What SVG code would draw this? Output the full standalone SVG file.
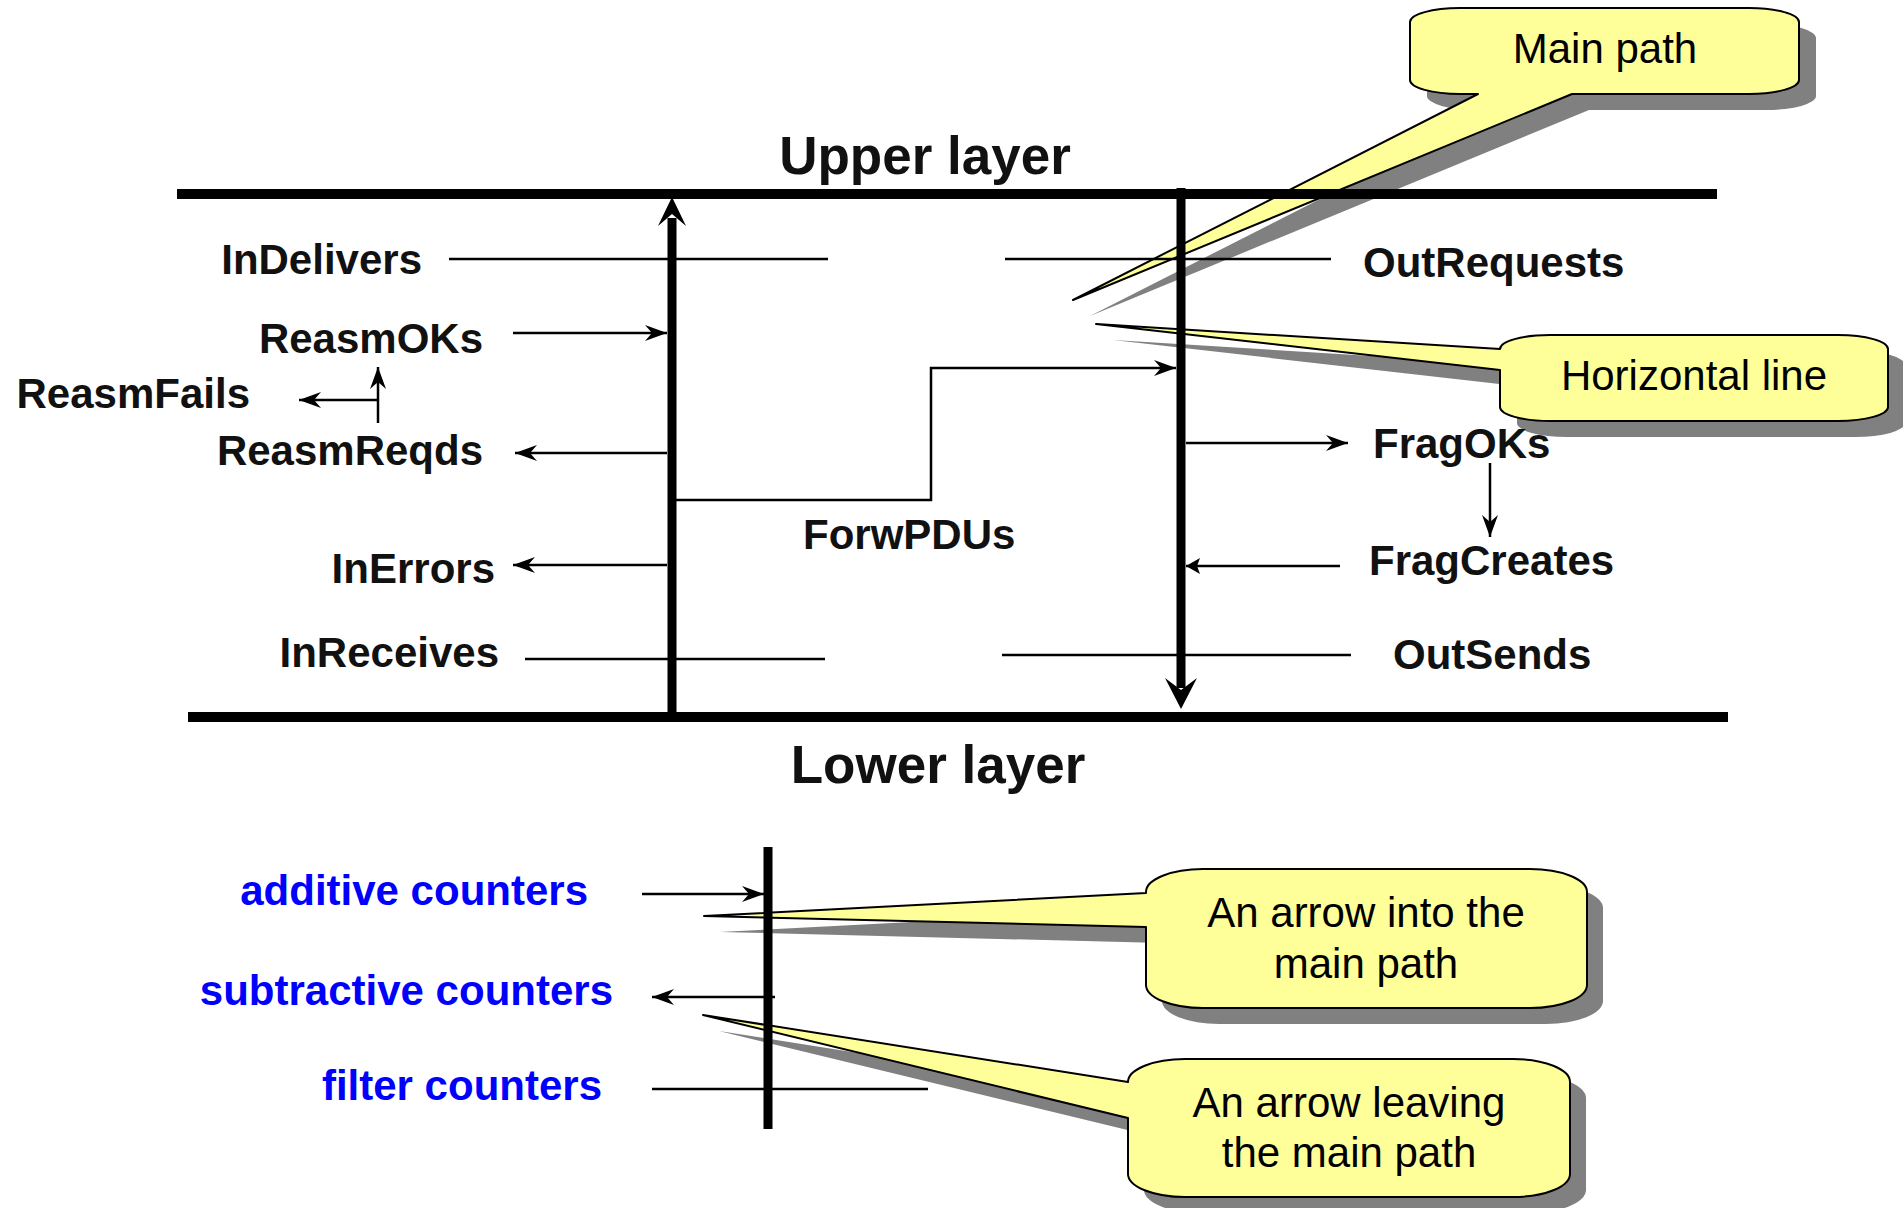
<svg xmlns="http://www.w3.org/2000/svg" width="1903" height="1208" viewBox="0 0 1903 1208">
  <style>
    .lbl { font-family: "Liberation Sans", Arial, sans-serif; font-weight: bold; font-size: 42px; fill: #111; }
    .layer { font-family: "Liberation Sans", Arial, sans-serif; font-weight: bold; font-size: 53px; fill: #111; text-anchor: middle; }
    .blue { fill: #0000ff; }
    .note { font-family: "Liberation Sans", Arial, sans-serif; font-size: 42px; fill: #000; text-anchor: middle; }
    .bubble { fill: #ffff99; stroke: #000; stroke-width: 2; stroke-linejoin: round; }
    .shadow { fill: #808080; }
    .thin { fill: none; stroke: #000; stroke-width: 2.5; }
    .arr { marker-end: url(#stealth); }
    .thick { fill: none; stroke: #000; stroke-width: 10; }
    .bar { fill: none; stroke: #000; stroke-width: 9; }
  </style>
  <defs>
    <marker id="stealth" markerUnits="userSpaceOnUse" viewBox="-24 -10 26 20" refX="0" refY="0" markerWidth="26" markerHeight="20" orient="auto">
      <path d="M0,0 L-22,-8 L-15,0 L-22,8 Z" fill="#000"/>
    </marker>
    <marker id="solid" markerUnits="userSpaceOnUse" viewBox="-16 -9 18 18" refX="0" refY="0" markerWidth="18" markerHeight="18" orient="auto">
      <path d="M0,0 L-14,-8 L-11,0 L-14,8 Z" fill="#000"/>
    </marker>
  </defs>

  <rect width="1903" height="1208" fill="#fff"/>

  <!-- callout bubbles (under the diagram lines) -->
  <g id="callout-main-path">
    <path class="shadow" transform="translate(17,16)" d="M1460,8 H1749 A50,14 0 0 1 1799,22 V80 A50,14 0 0 1 1749,94 H1572 L1073,300 L1478,94 H1460 A50,14 0 0 1 1410,80 V22 A50,14 0 0 1 1460,8 Z"/>
    <path class="bubble" d="M1460,8 H1749 A50,14 0 0 1 1799,22 V80 A50,14 0 0 1 1749,94 H1572 L1073,300 L1478,94 H1460 A50,14 0 0 1 1410,80 V22 A50,14 0 0 1 1460,8 Z"/>
    <text class="note" x="1605" y="63">Main path</text>
  </g>
  <g id="callout-horizontal-line">
    <path class="shadow" transform="translate(17,16)" d="M1550,335 H1838 A50,14 0 0 1 1888,349 V407 A50,14 0 0 1 1838,421 H1550 A50,14 0 0 1 1500,407 V370 L1096,324 L1500,349 A50,14 0 0 1 1550,335 Z"/>
    <path class="bubble" d="M1550,335 H1838 A50,14 0 0 1 1888,349 V407 A50,14 0 0 1 1838,421 H1550 A50,14 0 0 1 1500,407 V370 L1096,324 L1500,349 A50,14 0 0 1 1550,335 Z"/>
    <text class="note" x="1694" y="390">Horizontal line</text>
  </g>
  <g id="callout-arrow-into">
    <path class="shadow" transform="translate(16,16)" d="M1203,869 H1530 A57,23 0 0 1 1587,892 V985 A57,23 0 0 1 1530,1008 H1203 A57,23 0 0 1 1146,985 V927 L704,916 L1146,893 V892 A57,23 0 0 1 1203,869 Z"/>
    <path class="bubble" d="M1203,869 H1530 A57,23 0 0 1 1587,892 V985 A57,23 0 0 1 1530,1008 H1203 A57,23 0 0 1 1146,985 V927 L704,916 L1146,893 V892 A57,23 0 0 1 1203,869 Z"/>
    <text class="note" x="1366" y="927">An arrow into the</text>
    <text class="note" x="1366" y="978">main path</text>
  </g>
  <g id="callout-arrow-leaving">
    <path class="shadow" transform="translate(16,16)" d="M1185,1059 H1513 A57,23 0 0 1 1570,1082 V1174 A57,23 0 0 1 1513,1197 H1185 A57,23 0 0 1 1128,1174 V1118 L703,1015 L1128,1082 A57,23 0 0 1 1185,1059 Z"/>
    <path class="bubble" d="M1185,1059 H1513 A57,23 0 0 1 1570,1082 V1174 A57,23 0 0 1 1513,1197 H1185 A57,23 0 0 1 1128,1174 V1118 L703,1015 L1128,1082 A57,23 0 0 1 1185,1059 Z"/>
    <text class="note" x="1349" y="1117">An arrow leaving</text>
    <text class="note" x="1349" y="1167">the main path</text>
  </g>

  <!-- layer boundaries, main paths and counter arrows -->
  <g id="connectors">
    <path class="thick" d="M177,194 H1717"/>
    <path class="thick" d="M188,717 H1728"/>

    <!-- receive path (upwards) -->
    <path class="bar" d="M672,218 V717"/>
    <path d="M672,197 L658,226 L672,214 L686,226 Z" fill="#000"/>

    <!-- send path (downwards) -->
    <path class="bar" d="M1181,188 V688"/>
    <path d="M1181,709 L1165,678 L1181,690 L1197,678 Z" fill="#000"/>

    <!-- filter lines -->
    <path class="thin" d="M449,259 H828 M1005,259 H1331"/>
    <path class="thin" d="M525,659 H825 M1002,655 H1351"/>

    <!-- counters on the receive side -->
    <path class="thin arr" d="M513,333 H667"/>
    <path class="thin arr" d="M378,400 H299"/>
    <path class="thin arr" d="M378,423 V367"/>
    <path class="thin arr" d="M667,453 H515"/>
    <path class="thin arr" d="M667,565 H513"/>

    <!-- forwarding -->
    <path class="thin arr" d="M676,500 H931 V368 H1176"/>

    <!-- counters on the send side -->
    <path class="thin arr" d="M1186,443 H1348"/>
    <path class="thin arr" d="M1490,463 V537"/>
    <path class="thin" d="M1340,566 H1186" marker-end="url(#solid)"/>

    <!-- legend -->
    <path class="bar" d="M768,847 V1129"/>
    <path class="thin arr" d="M642,894 H764"/>
    <path class="thin arr" d="M775,997 H652"/>
    <path class="thin" d="M652,1089 H928"/>
  </g>

  <!-- labels -->
  <g id="upper-layer"><text class="layer" x="925" y="174">Upper layer</text></g>
  <g id="lower-layer"><text class="layer" x="938" y="783">Lower layer</text></g>
  <g id="in-delivers"><text class="lbl" x="422" y="274" text-anchor="end">InDelivers</text></g>
  <g id="reasm-oks"><text class="lbl" x="483" y="353" text-anchor="end">ReasmOKs</text></g>
  <g id="reasm-fails"><text class="lbl" x="250" y="408" text-anchor="end">ReasmFails</text></g>
  <g id="reasm-reqds"><text class="lbl" x="483" y="465" text-anchor="end">ReasmReqds</text></g>
  <g id="in-errors"><text class="lbl" x="495" y="583" text-anchor="end">InErrors</text></g>
  <g id="in-receives"><text class="lbl" x="499" y="667" text-anchor="end">InReceives</text></g>
  <g id="forw-pdus"><text class="lbl" x="803" y="549">ForwPDUs</text></g>
  <g id="out-requests"><text class="lbl" x="1363" y="277">OutRequests</text></g>
  <g id="frag-oks"><text class="lbl" x="1373" y="458">FragOKs</text></g>
  <g id="frag-creates"><text class="lbl" x="1369" y="575">FragCreates</text></g>
  <g id="out-sends"><text class="lbl" x="1393" y="669">OutSends</text></g>
  <g id="additive"><text class="lbl blue" x="588" y="905" text-anchor="end">additive counters</text></g>
  <g id="subtractive"><text class="lbl blue" x="613" y="1005" text-anchor="end">subtractive counters</text></g>
  <g id="filter"><text class="lbl blue" x="602" y="1100" text-anchor="end">filter counters</text></g>
</svg>
